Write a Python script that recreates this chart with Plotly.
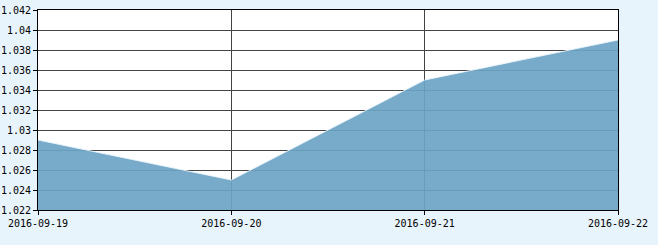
import plotly.graph_objects as go

dates = ["2016-09-19", "2016-09-20", "2016-09-21", "2016-09-22"]
values = [1.029, 1.025, 1.035, 1.039]
y_ticks = [1.022, 1.024, 1.026, 1.028, 1.03, 1.032, 1.034, 1.036, 1.038, 1.04, 1.042]
y_labels = ["1.022", "1.024", "1.026", "1.028", "1.03", "1.032", "1.034", "1.036", "1.038", "1.04", "1.042"]

fig = go.Figure()
fig.add_trace(go.Scatter(
    x=dates, y=values, mode="lines", fill="tozeroy",
    fillcolor="rgba(108,164,196,0.92)",
    line=dict(color="rgba(235,245,252,0.9)", width=1),
    hoverinfo="x+y",
))

fig.update_layout(
    width=658, height=245,
    margin=dict(l=38, r=40, t=10, b=35),
    paper_bgcolor="#e8f4fc",
    plot_bgcolor="#ffffff",
    showlegend=False,
    font=dict(family="DejaVu Sans Mono", size=10, color="#000000"),
)
fig.update_xaxes(
    type="category", range=[0, 3], automargin=False,
    showgrid=True, gridcolor="#444444", gridwidth=1,
    showline=True, linecolor="#000000", linewidth=1, mirror=True,
    ticks="outside", ticklen=4, tickcolor="#000000",
    tickfont=dict(family="DejaVu Sans Mono", size=10),
)
fig.update_yaxes(
    range=[1.022, 1.042], automargin=False,
    tickvals=y_ticks, ticktext=y_labels,
    showgrid=True, gridcolor="#444444", gridwidth=1,
    showline=True, linecolor="#000000", linewidth=1, mirror=True,
    ticks="outside", ticklen=4, tickcolor="#000000",
    tickfont=dict(family="DejaVu Sans Mono", size=10),
    zeroline=False,
)

fig.write_html("out.html")
